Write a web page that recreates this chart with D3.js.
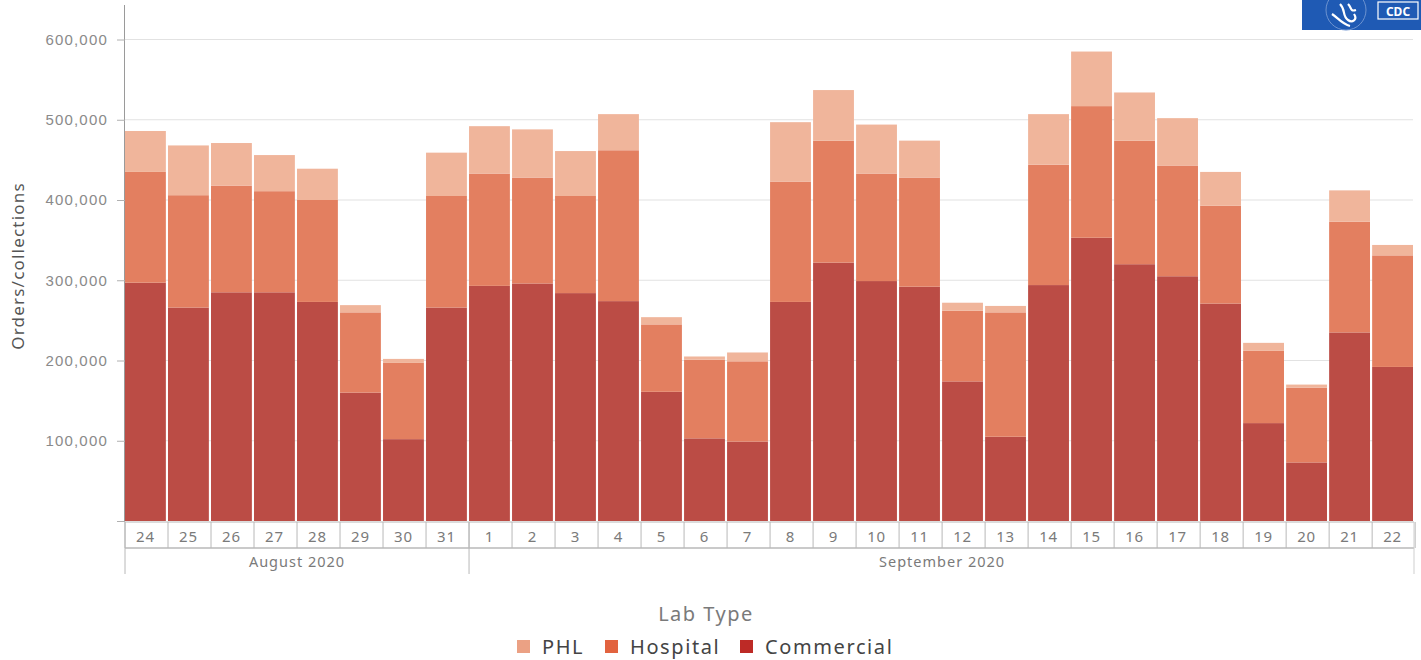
<!DOCTYPE html>
<html>
<head>
<meta charset="utf-8">
<script src="https://cdn.jsdelivr.net/npm/d3@7"></script>
<style>
  html, body { margin: 0; padding: 0; background: #fff; }
  svg { display: block; font-family: "Noto Sans", "Open Sans", sans-serif; }
</style>
</head>
<body>
<svg id="chart" width="1421" height="660"></svg>
<script>
// Daily test orders/collections by lab type, 24 Aug – 22 Sep 2020
const days = [24, 25, 26, 27, 28, 29, 30, 31,
  1, 2, 3, 4, 5, 6, 7, 8, 9, 10, 11, 12, 13, 14, 15, 16, 17, 18, 19, 20, 21, 22];
const months = [
  { label: "August 2020", count: 8 },
  { label: "September 2020", count: 22 }
];
const labTypes = ["PHL", "Hospital", "Commercial"];

const commercial = [297000, 266000, 285000, 285000, 273000, 160000, 102000, 266000,
  293000, 296000, 284000, 274000, 161000, 103000, 99000, 273000, 322000, 299000, 292000,
  174000, 105000, 294000, 353000, 320000, 305000, 271000, 122000, 73000, 235000, 192000];
const hospital = [138000, 140000, 133000, 126000, 127000, 100000, 95000, 139000,
  140000, 132000, 121000, 188000, 84000, 98000, 100000, 150000, 152000, 134000, 136000,
  88000, 155000, 150000, 164000, 154000, 138000, 122000, 90000, 93000, 138000, 139000];
const phl = [51000, 62000, 53000, 45000, 39000, 9000, 5000, 54000,
  59000, 60000, 56000, 45000, 9000, 4000, 11000, 74000, 63000, 61000, 46000,
  10000, 8000, 63000, 68000, 60000, 59000, 42000, 10000, 4000, 39000, 13000];

const yTicks = [0, 100000, 200000, 300000, 400000, 500000, 600000];

const barColor = { Commercial: "#bb4c45", Hospital: "#e37f60", PHL: "#f0b59b" };
const legendColor = { PHL: "#eba184", Hospital: "#e2633f", Commercial: "#bd2a26" };

const rows = days.map((d, i) => ({
  key: i, day: d, Commercial: commercial[i], Hospital: hospital[i], PHL: phl[i]
}));

const svg = d3.select("#chart");
const plotLeft = 125, plotRight = 1413, plotTop = 5, plotBottom = 521;

const x = d3.scaleBand().domain(rows.map(r => r.key)).range([plotLeft, plotRight])
  .paddingInner(0.05).paddingOuter(0.0).align(0.5);
const y = d3.scaleLinear().domain([0, 643000]).range([plotBottom, plotTop]);

// grid lines
svg.append("g").selectAll("line").data(yTicks.filter(t => t > 0)).join("line")
  .attr("x1", plotLeft).attr("x2", plotRight)
  .attr("y1", d => y(d)).attr("y2", d => y(d))
  .attr("stroke", "#e2e2e2").attr("stroke-width", 1.2);

// stacked bars
const stack = d3.stack().keys(["Commercial", "Hospital", "PHL"]);
const series = stack(rows);
svg.append("g").selectAll("g").data(series).join("g")
  .attr("fill", s => barColor[s.key])
  .selectAll("rect").data(s => s).join("rect")
  .attr("x", d => x(d.data.key))
  .attr("width", x.bandwidth())
  .attr("y", d => y(d[1]))
  .attr("height", d => y(d[0]) - y(d[1]));

// y axis
const yAxis = d3.axisLeft(y).tickValues(yTicks).tickSize(8).tickPadding(9)
  .tickFormat(d => d === 0 ? "" : d3.format(",")(d));
const gy = svg.append("g").attr("transform", `translate(${plotLeft},0)`).call(yAxis);
gy.select(".domain").attr("stroke", "#9a9a9a").attr("d", `M-0.5,${plotTop}V${plotBottom}`);
gy.selectAll(".tick line").attr("stroke", "#b0b0b0");
gy.selectAll(".tick text").attr("fill", "#8a8a8a").style("font-size", "15px")
  .style("letter-spacing", "1.2px");

svg.append("text")
  .attr("transform", `translate(24,${266}) rotate(-90)`)
  .attr("text-anchor", "middle").attr("fill", "#555").style("font-size", "17px")
  .style("letter-spacing", "1.2px")
  .text("Orders/collections");

// x axis: day row and month row
const step = x.step();
const dayTop = plotBottom + 1, dayBottom = 548, monthBottom = 574;
const gx = svg.append("g");
gx.append("line").attr("x1", plotLeft).attr("x2", plotRight + 1).attr("y1", dayTop).attr("y2", dayTop)
  .attr("stroke", "#b8b8b8");
gx.append("line").attr("x1", plotLeft).attr("x2", plotRight + 1).attr("y1", dayBottom).attr("y2", dayBottom)
  .attr("stroke", "#b8b8b8").attr("stroke-width", 1.5);
const bounds = d3.range(rows.length + 1).map(i => plotLeft + i * step);
gx.selectAll("line.sep").data(bounds).join("line").attr("class", "sep")
  .attr("x1", d => d).attr("x2", d => d).attr("y1", dayTop).attr("y2", dayBottom)
  .attr("stroke", "#b8b8b8");
gx.selectAll("text.day").data(rows).join("text").attr("class", "day")
  .attr("x", d => x(d.key) + x.bandwidth() / 2).attr("y", 542)
  .attr("text-anchor", "middle").attr("fill", "#7a7a7a").style("font-size", "15px")
  .style("letter-spacing", "0.8px")
  .text(d => d.day);

let start = 0;
months.forEach(m => {
  const x0 = plotLeft + start * step, x1 = plotLeft + (start + m.count) * step;
  gx.append("line").attr("x1", x0).attr("x2", x0).attr("y1", dayTop).attr("y2", monthBottom)
    .attr("stroke", "#b8b8b8");
  gx.append("text").attr("x", (x0 + x1) / 2).attr("y", 567).attr("text-anchor", "middle")
    .attr("fill", "#7a7a7a").style("font-size", "14.5px").style("letter-spacing", "1px")
    .text(m.label);
  start += m.count;
});
gx.append("line").attr("x1", plotRight + 1).attr("x2", plotRight + 1).attr("y1", dayTop).attr("y2", monthBottom)
  .attr("stroke", "#cfcfcf");

// legend
svg.append("text").attr("x", 706).attr("y", 621).attr("text-anchor", "middle")
  .attr("fill", "#7a7a7a").style("font-size", "20px").style("letter-spacing", "1.5px")
  .text("Lab Type");
const legendX = { PHL: 517, Hospital: 605, Commercial: 740 };
const lg = svg.append("g").selectAll("g").data(labTypes).join("g")
  .attr("transform", d => `translate(${legendX[d]},640)`);
lg.append("rect").attr("width", 13).attr("height", 13).attr("fill", d => legendColor[d]);
lg.append("text").attr("x", 25).attr("y", 13.5).attr("fill", "#444").style("font-size", "20px")
  .style("letter-spacing", "1.6px")
  .text(d => d);

// agency badge, top right
const badge = svg.append("g").attr("transform", "translate(1302,0)");
badge.append("rect").attr("width", 119).attr("height", 30).attr("fill", "#1f5ab4");
badge.append("path")
  .attr("d", "M38,4 C44,10 40,16 46,20 C50,23 56,20 52,14 M46,4 C50,8 48,12 54,10 M30,14 C36,18 40,24 48,26")
  .attr("fill", "none").attr("stroke", "#fff").attr("stroke-width", 2.2);
badge.append("circle").attr("cx", 44).attr("cy", 10).attr("r", 20)
  .attr("fill", "none").attr("stroke", "#6d93d0").attr("stroke-width", 1);
badge.append("rect").attr("x", 76).attr("y", 2).attr("width", 40).attr("height", 17)
  .attr("fill", "none").attr("stroke", "#fff").attr("stroke-width", 1.2);
badge.append("text").attr("x", 96).attr("y", 15.5).attr("text-anchor", "middle").attr("fill", "#fff")
  .style("font-size", "12px").style("font-weight", "bold").text("CDC");
</script>
</body>
</html>
